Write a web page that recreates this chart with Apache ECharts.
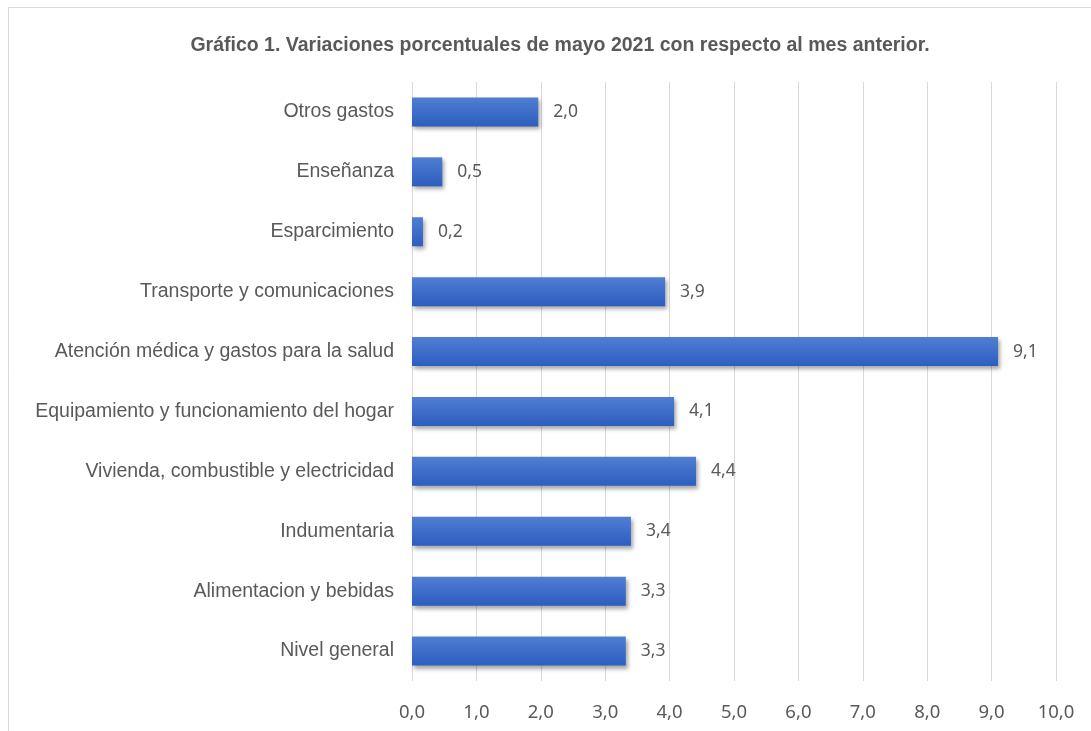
<!DOCTYPE html>
<html><head><meta charset="utf-8">
<script src="https://cdn.jsdelivr.net/npm/echarts@6/dist/echarts.min.js"></script>
<style>html,body{margin:0;padding:0;background:#fff}#c{width:1091px;height:731px}</style>
</head><body><div id="c"></div>
<script>
var categories = ["Nivel general","Alimentacion y bebidas","Indumentaria","Vivienda, combustible y electricidad","Equipamiento y funcionamiento del hogar","Atención médica y gastos para la salud","Transporte y comunicaciones","Esparcimiento","Enseñanza","Otros gastos"];
var values = [3.32,3.32,3.40,4.41,4.07,9.10,3.93,0.17,0.47,1.96];
var xTicks = [0,1,2,3,4,5,6,7,8,9,10];
var titleText = "Gráfico 1. Variaciones porcentuales de mayo 2021 con respecto al mes anterior.";

var chart = echarts.init(document.getElementById('c'));
chart.setOption({
  animation:false,
  graphic:[{type:'rect',shape:{x:8.5,y:7.5,width:1100,height:740},style:{fill:'none',stroke:'#d9d9d9',lineWidth:1}}],
  title:{text:titleText,left:555,top:31,textAlign:'center',textStyle:{fontFamily:'Liberation Sans',fontWeight:'bold',fontSize:19.5,color:'#595959'}},
  grid:{left:412,right:35,top:82,bottom:50,containLabel:false},
  xAxis:{type:'value',min:xTicks[0],max:xTicks[xTicks.length-1],interval:1,
    axisLine:{show:false},axisTick:{show:false},
    splitLine:{lineStyle:{color:'#d9d9d9',width:1}},
    axisLabel:{margin:22,fontFamily:'Noto Sans',fontSize:18.5,color:'#595959',formatter:function(v){return v.toFixed(1).replace('.',',');}}
  },
  yAxis:{type:'category',data:categories,
    axisLine:{show:false},axisTick:{show:false},
    axisLabel:{margin:18,fontFamily:'Liberation Sans',fontSize:19.5,color:'#595959'}
  },
  series:[{type:'bar',data:values,barWidth:29,
    itemStyle:{color:new echarts.graphic.LinearGradient(0,0,0,1,[{offset:0,color:'#4f7ed3'},{offset:1,color:'#2d5dbf'}]),
      shadowColor:'rgba(0,0,0,0.35)',shadowBlur:4,shadowOffsetX:2,shadowOffsetY:3},
    label:{show:true,position:'right',distance:15,fontFamily:'Noto Sans',fontSize:17.5,color:'#595959',
      formatter:function(p){return p.value.toFixed(1).replace('.',',');}}
  }]
});
</script></body></html>
